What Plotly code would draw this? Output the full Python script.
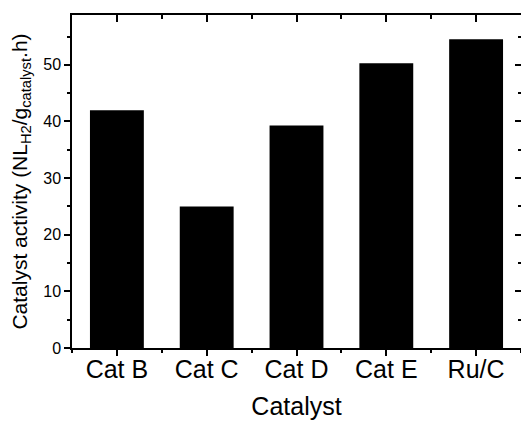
import plotly.graph_objects as go

categories = ["Cat B", "Cat C", "Cat D", "Cat E", "Ru/C"]
activity = [42.0, 25.0, 39.3, 50.3, 54.5]
y_ticks = [0, 10, 20, 30, 40, 50]

xpos = list(range(len(categories)))
x_minor = [i - 0.5 for i in range(len(categories) + 1)]
x_range = [-0.5, len(categories) - 0.5]
y_range = [0, 58.8]

fig = go.Figure()
fig.add_trace(go.Bar(
    x=xpos, y=activity, width=0.6,
    marker=dict(color="black", line=dict(width=0)),
))
# invisible trace to anchor the mirrored top/right axes
fig.add_trace(go.Scatter(x=[x_range[0]], y=[y_range[0]], xaxis="x2", yaxis="y2",
                         mode="markers", marker=dict(opacity=0, size=1),
                         showlegend=False, hoverinfo="skip"))

font_family = "Liberation Sans, Arial, sans-serif"
lw = 1.5

fig.update_layout(
    width=521, height=421,
    margin=dict(l=72, r=0, t=15, b=73),
    paper_bgcolor="white", plot_bgcolor="white",
    showlegend=False,
    font=dict(family=font_family, color="black"),
    xaxis=dict(
        type="linear", range=x_range,
        tickmode="array", tickvals=xpos, ticktext=categories,
        tickfont=dict(size=25, family=font_family, color="black"),
        ticks="outside", ticklen=6, tickwidth=lw, tickcolor="black",
        ticklabelstandoff=-8,
        showline=True, linecolor="black", linewidth=lw, mirror=False,
        showgrid=False, zeroline=False,
        minor=dict(tickmode="array", tickvals=x_minor,
                   ticks="outside", ticklen=3, tickwidth=lw, tickcolor="black", showgrid=False),
        title=dict(text="Catalyst", font=dict(size=25, family=font_family, color="black"), standoff=16),
    ),
    yaxis=dict(
        type="linear", range=y_range,
        tickmode="array", tickvals=y_ticks,
        tickfont=dict(size=16, family=font_family, color="black"),
        ticks="outside", ticklen=6, tickwidth=lw, tickcolor="black",
        showline=True, linecolor="black", linewidth=lw, mirror=False,
        showgrid=False, zeroline=False,
        minor=dict(dtick=5, tick0=0, ticks="outside", ticklen=3, tickwidth=lw,
                   tickcolor="black", showgrid=False),
        title=dict(text="Catalyst activity (NL<sub>H2</sub>/g<sub>catalyst</sub>.h)",
                   font=dict(size=21, family=font_family, color="black"), standoff=10),
    ),
    xaxis2=dict(
        type="linear", overlaying="x", side="top", anchor="y2",
        range=x_range,
        tickmode="array", tickvals=xpos, showticklabels=False,
        ticks="inside", ticklen=7, tickwidth=lw, tickcolor="black",
        showline=True, linecolor="black", linewidth=lw,
        showgrid=False, zeroline=False,
        minor=dict(tickmode="array", tickvals=x_minor,
                   ticks="inside", ticklen=4, tickwidth=lw, tickcolor="black", showgrid=False),
    ),
    yaxis2=dict(
        type="linear", overlaying="y", side="right", anchor="x2",
        range=y_range,
        tickmode="array", tickvals=y_ticks, showticklabels=False,
        ticks="inside", ticklen=6, tickwidth=lw, tickcolor="black",
        showline=True, linecolor="black", linewidth=lw,
        showgrid=False, zeroline=False,
        minor=dict(dtick=5, tick0=0, ticks="inside", ticklen=3, tickwidth=lw,
                   tickcolor="black", showgrid=False),
    ),
)

fig.write_html("out.html")
